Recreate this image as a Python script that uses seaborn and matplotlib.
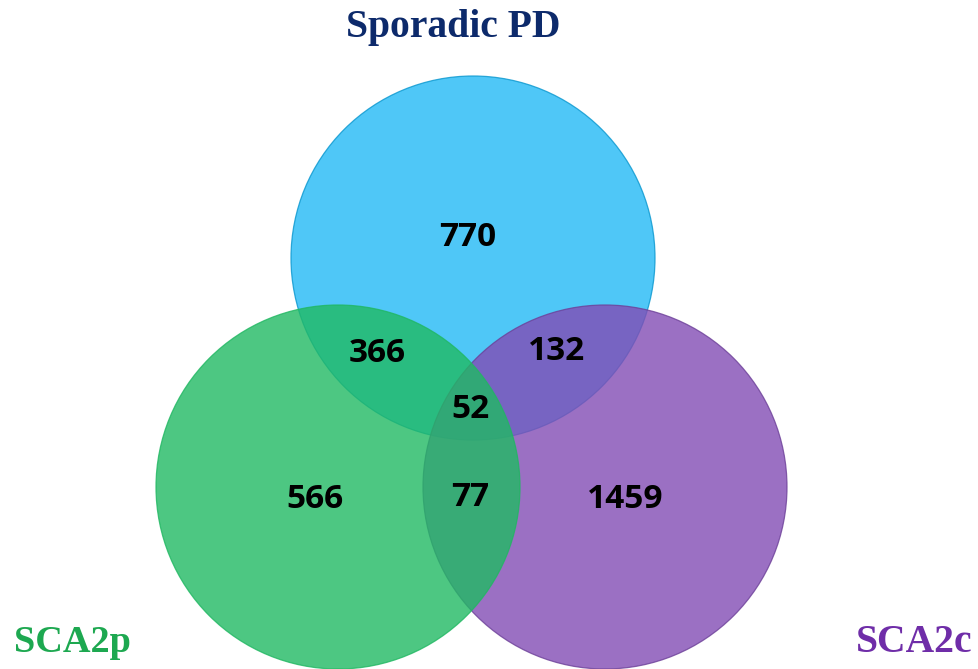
import matplotlib
matplotlib.use("Agg")
import matplotlib.pyplot as plt
import seaborn as sns
from matplotlib.patches import Circle

set_names = ["Sporadic PD", "SCA2p", "SCA2c"]
set_colors = ["#23BAF6", "#20BA63", "#824CB5"]
label_colors = ["#0D2A6B", "#1DA850", "#6F2DA8"]

# region counts: only A, only B, only C, A&B, A&C, B&C, A&B&C
region_names = ["A", "B", "C", "AB", "AC", "BC", "ABC"]
region_counts = [770, 566, 1459, 366, 132, 77, 52]


def main():
    sns.set_theme(style="white")
    fig = plt.figure(figsize=(9.79, 6.69), dpi=100)
    ax = fig.add_axes([0, 0, 1, 1])
    ax.set_xlim(0, 979)
    ax.set_ylim(669, 0)
    ax.set_aspect("equal")
    ax.axis("off")

    # circle layout (pixels), drawn blue, purple, then green on top
    centers = {"A": (473, 258), "B": (338, 487), "C": (605, 487)}
    radius = 182
    order = [("A", 0), ("C", 2), ("B", 1)]
    for key, i in order:
        c = Circle(centers[key], radius, facecolor=set_colors[i], alpha=0.8,
                   edgecolor=sns.set_hls_values(set_colors[i], l=0.42),
                   linewidth=0.9, zorder=2)
        ax.add_patch(c)

    label_pos = {"A": (468, 238), "B": (315, 500), "C": (625, 500),
                 "AB": (377, 353), "AC": (557, 352), "BC": (470, 498),
                 "ABC": (470, 410)}
    for name, count in zip(region_names, region_counts):
        x, y = label_pos[name]
        ax.text(x, y, str(count), ha="center", va="center", fontsize=24,
                fontweight="bold", family="Open Sans", color="black", zorder=5)

    title_kw = dict(family="Liberation Serif", fontweight="bold", va="center")
    ax.text(453, 28, set_names[0], ha="center", fontsize=28.5,
            color=label_colors[0], **title_kw)
    ax.text(14, 643, set_names[1], ha="left", fontsize=27.5,
            color=label_colors[1], **title_kw)
    ax.text(973, 643, set_names[2], ha="right", fontsize=28.5,
            color=label_colors[2], **title_kw)

    fig.savefig("out.png", dpi=100)


if __name__ == "__main__":
    main()
